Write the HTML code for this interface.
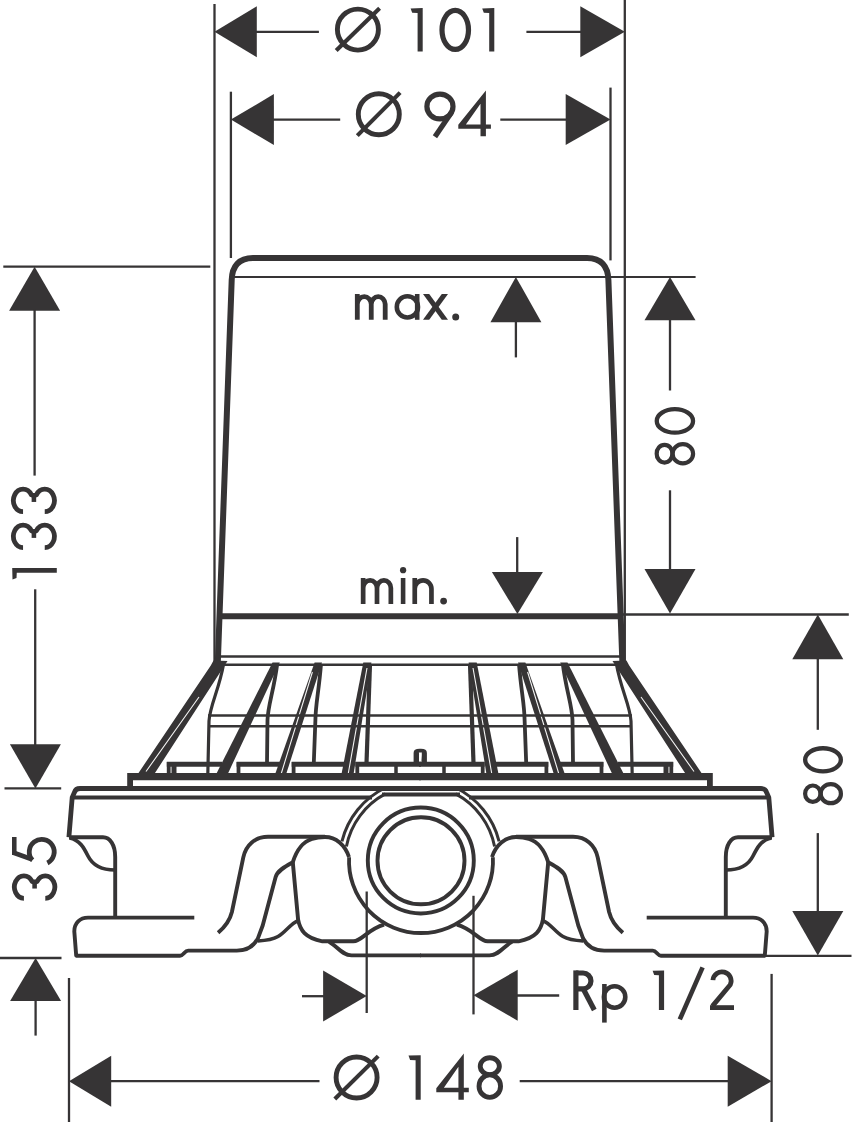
<!DOCTYPE html>
<html><head><meta charset="utf-8"><style>
html,body{margin:0;padding:0;background:#fff;}
body{width:863px;height:1122px;overflow:hidden;font-family:"Liberation Sans",sans-serif;}
svg{display:block;}
svg path, svg line, svg circle, svg polygon, svg ellipse{fill:none;stroke:#363435;stroke-linecap:butt;stroke-linejoin:round;}
svg .fl{fill:#363435;stroke:none;}
</style></head><body>
<svg width="863" height="1122" viewBox="0 0 863 1122">
<line x1="214.5" y1="4" x2="214.5" y2="663" stroke-width="2.3"/>
<line x1="624.8" y1="0" x2="624.8" y2="662" stroke-width="2.3"/>
<line x1="230.9" y1="91.7" x2="230.9" y2="258" stroke-width="2.3"/>
<line x1="610.5" y1="87.6" x2="610.5" y2="260.4" stroke-width="2.3"/>
<polygon points="214.5,31.8 256.8,6.3 256.8,57.3" stroke="none" class="fl"/>
<line x1="256" y1="31.8" x2="318.9" y2="31.8" stroke-width="2.3"/>
<polygon points="624.8,31.8 580.3,6.3 580.3,57.3" stroke="none" class="fl"/>
<line x1="526.4" y1="31.8" x2="581" y2="31.8" stroke-width="2.3"/>
<polygon points="230.9,119.6 273.9,94.1 273.9,145.1" stroke="none" class="fl"/>
<line x1="273" y1="119.6" x2="340.2" y2="119.6" stroke-width="2.3"/>
<polygon points="610.5,119.6 565.7,94.1 565.7,145.1" stroke="none" class="fl"/>
<line x1="500.3" y1="119.6" x2="566" y2="119.6" stroke-width="2.3"/>
<g><path d="M357.9,9.1 A20.5,20.5 0 1 1 357.9,50.1 A20.5,20.5 0 1 1 357.9,9.1Z" stroke-width="4.9"/><path d="M336.2,50.5 L379.6,8.2" stroke-width="4.1"/><polygon points="410.6,8.4 422.7,8.1 422.7,51.4 417.6,51.4 417.6,12.95 412.2,12.69" stroke="none" class="fl"/><path d="M455.25,10.4 A13.25,19.5 0 1 1 455.25,49.4 A13.25,19.5 0 1 1 455.25,10.4Z" stroke-width="5.2"/><polygon points="482.2,8.4 494.3,8.1 494.3,51.4 489.2,51.4 489.2,12.95 483.8,12.69" stroke="none" class="fl"/></g>
<g><path d="M378.8,93.7 A20.5,20.5 0 1 1 378.8,134.7 A20.5,20.5 0 1 1 378.8,93.7Z" stroke-width="4.9"/><path d="M357.3,135.6 L400.1,92.6" stroke-width="4.1"/><path d="M439.95,94.1 A13.05,12.4 0 1 1 439.95,118.9 A13.05,12.4 0 1 1 439.95,94.1Z" stroke-width="5.2"/><path d="M451.78,112.01 L434.94,136.7" stroke-width="5.2"/><path d="M485.9,90.4 L485.9,124.4 L490.9,124.4 L490.9,128.8 L485.9,128.8 L485.9,136.2 L480.5,136.2 L480.5,128.8 L458.3,128.8 L458.3,124.7 Z M480.5,103.7 L480.5,124.4 L465.9,124.4 Z" class="fl" fill-rule="evenodd" stroke="none"/></g>
<path d="M217.8,663 L231.7,280 C232.1,266 239,258 253,258 H587 C601,258 608,266 608.4,280 L622.4,663" stroke-width="6" />
<line x1="233.5" y1="277" x2="695.6" y2="277" stroke-width="2.2"/>
<line x1="219" y1="616.3" x2="620" y2="616.3" stroke-width="6"/>
<line x1="622" y1="614.5" x2="848.8" y2="614.5" stroke-width="2.3"/>
<line x1="218" y1="656.5" x2="621.5" y2="656.5" stroke-width="2.6"/>
<line x1="220" y1="664.8" x2="620" y2="664.8" stroke-width="2.6"/>
<polygon points="515.9,277 490.4,322.3 541.4,322.3" stroke="none" class="fl"/>
<line x1="515.9" y1="321" x2="515.9" y2="357.4" stroke-width="2.3"/>
<g><path d="M357.3,319.8 V294 M357.3,308.19 V304.07 A6.98,7.67 0 0 1 371.25,304.07 V319.8 M371.25,304.07 A6.98,7.67 0 0 1 385.2,304.07 V319.8" stroke-width="4.8"/><polygon points="414.9,294 419.5,294 419.5,319.8 414.9,319.8" stroke="none" class="fl"/><path d="M407.4,296.3 A10.6,10.6 0 1 1 407.4,317.5 A10.6,10.6 0 1 1 407.4,296.3Z" stroke-width="4.6"/><polygon points="423,294 429.21,294 448,319.8 441.79,319.8" stroke="none" class="fl"/><polygon points="441.79,294 448,294 429.21,319.8 423,319.8" stroke="none" class="fl"/><circle cx="455.7" cy="317" r="3.5" stroke="none" class="fl"/></g>
<polygon points="517.4,614.1 491.9,572 542.9,572" stroke="none" class="fl"/>
<line x1="517.2" y1="537.1" x2="517.2" y2="573" stroke-width="2.3"/>
<g><path d="M363.15,604 V578 M363.15,592.3 V587.97 A6.92,7.62 0 0 1 377,587.97 V604 M377,587.97 A6.92,7.62 0 0 1 390.85,587.97 V604" stroke-width="4.7"/><polygon points="400.8,578 405.4,578 405.4,604 400.8,604" stroke="none" class="fl"/><circle cx="403.1" cy="570.2" r="3.13" stroke="none" class="fl"/><path d="M414.75,604 V578 M414.75,592.3 V588.7 A8.35,8.35 0 0 1 431.45,588.7 V604" stroke-width="4.7"/><circle cx="443.6" cy="601.1" r="3.4" stroke="none" class="fl"/></g>
<polygon points="670,277 644.5,320.3 695.5,320.3" stroke="none" class="fl"/>
<line x1="670" y1="319.5" x2="670" y2="390.5" stroke-width="2.3"/>
<line x1="670" y1="490.3" x2="670" y2="570" stroke-width="2.3"/>
<polygon points="670,613.5 644.5,569 695.5,569" stroke="none" class="fl"/>
<g transform="translate(654.6,465.4) rotate(-90)"><path d="M11.7,2.1 A8.55,7.85 0 1 1 11.7,17.79 A8.55,7.85 0 1 1 11.7,2.1Z" stroke-width="4.2"/><path d="M11.7,18 A9.6,10.25 0 1 1 11.7,38.5 A9.6,10.25 0 1 1 11.7,18Z" stroke-width="4.2"/><path d="M44.5,2.15 A11.75,18.15 0 1 1 44.5,38.45 A11.75,18.15 0 1 1 44.5,2.15Z" stroke-width="4.3"/></g>
<polygon points="817.8,614.5 792.3,659.3 843.3,659.3" stroke="none" class="fl"/>
<line x1="817.8" y1="658.5" x2="817.8" y2="729.8" stroke-width="2.3"/>
<line x1="817.8" y1="833.1" x2="817.8" y2="912" stroke-width="2.3"/>
<polygon points="817.8,955.5 792.3,911.1 843.3,911.1" stroke="none" class="fl"/>
<g transform="translate(803,805) rotate(-90)"><path d="M11.3,2.1 A8.18,7.7 0 1 1 11.3,17.5 A8.18,7.7 0 1 1 11.3,2.1Z" stroke-width="4.2"/><path d="M11.3,17.71 A9.2,10.1 0 1 1 11.3,37.9 A9.2,10.1 0 1 1 11.3,17.71Z" stroke-width="4.2"/><path d="M45.2,2.15 A11.55,17.85 0 1 1 45.2,37.85 A11.55,17.85 0 1 1 45.2,2.15Z" stroke-width="4.3"/></g>
<line x1="764" y1="955.8" x2="851.5" y2="955.8" stroke-width="2.3"/>
<line x1="3.3" y1="266.7" x2="210.3" y2="266.7" stroke-width="2.3"/>
<polygon points="34.6,266.7 9.1,310.7 60.1,310.7" stroke="none" class="fl"/>
<line x1="34.6" y1="309.5" x2="34.6" y2="475.6" stroke-width="2.3"/>
<line x1="35.2" y1="589.3" x2="35.2" y2="745" stroke-width="2.3"/>
<polygon points="35.4,788.4 9.9,744.3 60.9,744.3" stroke="none" class="fl"/>
<line x1="4.5" y1="788.4" x2="61.2" y2="788.4" stroke-width="2.3"/>
<g transform="translate(11,579.6) rotate(-90)"><polygon points="0,1.5 11.6,1.2 11.6,45.8 6.8,45.8 6.8,5.76 1.6,5.52" stroke="none" class="fl"/><path d="M32,12.05 A11.2,9.65 0 1 1 48.8,20.41 L47.9,22.9 L48.8,25.39 A11.2,9.65 0 1 1 32,33.75" stroke-width="4.8"/><path d="M47.9,22.9 H41.7" stroke-width="4.56"/><path d="M67.9,12.05 A11.25,9.65 0 1 1 84.78,20.41 L83.88,22.9 L84.78,25.39 A11.25,9.65 0 1 1 67.9,33.75" stroke-width="4.8"/><path d="M83.88,22.9 H77.65" stroke-width="4.56"/></g>
<g transform="translate(12,901) rotate(-90)"><path d="M2.7,11.9 A11.25,9.5 0 1 1 19.58,20.13 L18.68,22.6 L19.58,25.07 A11.25,9.5 0 1 1 2.7,33.3" stroke-width="4.8"/><path d="M18.68,22.6 H12.45" stroke-width="4.56"/><polygon points="46,0 64,0 64,4.56 46,4.56" stroke="none" class="fl"/><path d="M48.4,1 L41.57,20.52" stroke-width="4.8"/><path d="M40.77,20.45 A12.48,12.48 0 1 1 38,35.39" stroke-width="4.8"/></g>
<line x1="0" y1="958" x2="61.5" y2="958" stroke-width="2.3"/>
<polygon points="35.6,958 10.1,1000.9 61.1,1000.9" stroke="none" class="fl"/>
<line x1="35.6" y1="1000" x2="35.6" y2="1035.6" stroke-width="2.3"/>
<line x1="69" y1="978" x2="69" y2="1122" stroke-width="2.3"/>
<line x1="771.6" y1="973.9" x2="771.6" y2="1122" stroke-width="2.3"/>
<polygon points="69,1081.2 111.2,1055.7 111.2,1106.7" stroke="none" class="fl"/>
<line x1="110" y1="1081.2" x2="319.5" y2="1081.2" stroke-width="2.3"/>
<line x1="519.7" y1="1081.2" x2="729" y2="1081.2" stroke-width="2.3"/>
<polygon points="771.6,1081.2 727.7,1055.7 727.7,1106.7" stroke="none" class="fl"/>
<g><path d="M356.6,1057 A20.5,20.5 0 1 1 356.6,1098 A20.5,20.5 0 1 1 356.6,1057Z" stroke-width="4.9"/><path d="M334.8,1099 L378.2,1056.1" stroke-width="4.1"/><polygon points="408.5,1055.6 420.7,1055.3 420.7,1099.8 415.6,1099.8 415.6,1060.14 410.1,1059.89" stroke="none" class="fl"/><path d="M463.82,1053.4 L463.82,1087.85 L468.8,1087.85 L468.8,1092.3 L463.82,1092.3 L463.82,1099.8 L458.43,1099.8 L458.43,1092.3 L436.3,1092.3 L436.3,1088.15 Z M458.43,1066.87 L458.43,1087.85 L443.88,1087.85 Z" class="fl" fill-rule="evenodd" stroke="none"/><path d="M489.8,1057.75 A9.56,8.45 0 1 1 489.8,1074.65 A9.56,8.45 0 1 1 489.8,1057.75Z" stroke-width="4.9"/><path d="M489.8,1074.9 A10.75,11.22 0 1 1 489.8,1097.35 A10.75,11.22 0 1 1 489.8,1074.9Z" stroke-width="4.9"/></g>
<line x1="366.7" y1="891.5" x2="366.7" y2="1013" stroke-width="2.3"/>
<line x1="473.5" y1="895.8" x2="473.5" y2="1014.4" stroke-width="2.3"/>
<polygon points="366.7,996 323.1,970.5 323.1,1021.5" stroke="none" class="fl"/>
<line x1="302" y1="996.2" x2="324" y2="996.2" stroke-width="2.3"/>
<polygon points="473.5,995.2 517.7,969.7 517.7,1020.7" stroke="none" class="fl"/>
<line x1="517" y1="995.5" x2="559.2" y2="995.5" stroke-width="2.3"/>
<g><polygon points="573.3,970.4 578.5,970.4 578.5,1010 573.3,1010" stroke="none" class="fl"/><path d="M575.9,973 H583.05 A7.89,7.89 0 0 1 583.05,988.79 H575.9" stroke-width="5.2"/><path d="M583.2,988.79 L594.3,1010" stroke-width="5.2"/><polygon points="602.1,984 606.7,984 606.7,1022.6 602.1,1022.6" stroke="none" class="fl"/><path d="M614.6,986.3 A10.7,10.7 0 1 1 614.6,1007.7 A10.7,10.7 0 1 1 614.6,986.3Z" stroke-width="4.6"/><polygon points="652.6,970.7 664.1,970.4 664.1,1010 658.9,1010 658.9,975.34 654.2,975.08" stroke="none" class="fl"/><path d="M679.8,1019.4 L702.6,967.3" stroke-width="4.6"/><path d="M712.91,980.13 A9.12,9.12 0 1 1 730.27,984.77 L712.4,1006.16" stroke-width="4.8"/><polygon points="710,1005.2 734,1005.2 734,1010 710,1010" stroke="none" class="fl"/></g>
<g><polygon points="213.5,660.5 227.5,661 154,774.5 137.5,774.5 210.8,665.5" stroke="none" class="fl"/><polygon points="272.5,662.5 279.8,662.5 227.5,774.5 216,774.5" stroke="none" class="fl"/><polygon points="314.6,662.5 322,662.5 286,774.5 275,774.5" stroke="none" class="fl"/><polygon points="363.3,662.5 371.4,662.5 353.5,774.5 341.4,774.5" stroke="none" class="fl"/><path d="M223.6,664 C219,690 210,705 209,721 L207.8,775" stroke-width="3.2"/><path d="M277.2,664 C274,690 268,705 267.5,720 L267,763" stroke-width="3.8"/><path d="M321,664 C319,690 315.5,705 315.4,720 L313.8,763" stroke-width="3.8"/><path d="M370,664 L366.5,763" stroke-width="4.2"/><path d="M166.8,764.2 H222" stroke-width="5"/><path d="M168.70000000000002,762 V774" stroke-width="3.8"/><path d="M236.6,764.2 H281" stroke-width="5"/><path d="M238.5,762 V774" stroke-width="3.8"/><path d="M291.7,764.2 H345" stroke-width="5"/><path d="M293.59999999999997,762 V774" stroke-width="3.8"/><path d="M355.4,764.2 H421" stroke-width="5"/><path d="M357.29999999999995,762 V774" stroke-width="3.8"/><path d="M174,766 V774" stroke-width="5"/><path d="M396,766 V774" stroke-width="3.5"/><path d="M312.4,672 L280.8,775 M367,668 L348,775 M199,697 L146,771.5" style="stroke:#f4f4f4;fill:none" stroke-width="1.1"/><polygon points="127.2,773 421,773 421,780.2 133,780.2 133,787.5 127.2,787.5" stroke="none" class="fl"/></g>
<g transform="translate(840,0) scale(-1,1)"><polygon points="213.5,660.5 227.5,661 154,774.5 137.5,774.5 210.8,665.5" stroke="none" class="fl"/><polygon points="272.5,662.5 279.8,662.5 227.5,774.5 216,774.5" stroke="none" class="fl"/><polygon points="314.6,662.5 322,662.5 286,774.5 275,774.5" stroke="none" class="fl"/><polygon points="363.3,662.5 371.4,662.5 353.5,774.5 341.4,774.5" stroke="none" class="fl"/><path d="M223.6,664 C219,690 210,705 209,721 L207.8,775" stroke-width="3.2"/><path d="M277.2,664 C274,690 268,705 267.5,720 L267,763" stroke-width="3.8"/><path d="M321,664 C319,690 315.5,705 315.4,720 L313.8,763" stroke-width="3.8"/><path d="M370,664 L366.5,763" stroke-width="4.2"/><path d="M166.8,764.2 H222" stroke-width="5"/><path d="M168.70000000000002,762 V774" stroke-width="3.8"/><path d="M236.6,764.2 H281" stroke-width="5"/><path d="M238.5,762 V774" stroke-width="3.8"/><path d="M291.7,764.2 H345" stroke-width="5"/><path d="M293.59999999999997,762 V774" stroke-width="3.8"/><path d="M355.4,764.2 H421" stroke-width="5"/><path d="M357.29999999999995,762 V774" stroke-width="3.8"/><path d="M174,766 V774" stroke-width="5"/><path d="M396,766 V774" stroke-width="3.5"/><path d="M312.4,672 L280.8,775 M367,668 L348,775 M199,697 L146,771.5" style="stroke:#f4f4f4;fill:none" stroke-width="1.1"/><polygon points="127.2,773 421,773 421,780.2 133,780.2 133,787.5 127.2,787.5" stroke="none" class="fl"/></g>
<path d="M416.3,763 V753 Q416.3,751.5 419.5,751.5 H421 Q424.2,751.5 424.2,753 V763" stroke-width="5.4"/>
<path d="M418.9,752.5 L421.9,752.5 L420.9,761 L419.9,761Z" style="fill:#fff;stroke:none"/>
<line x1="208" y1="715.5" x2="632" y2="715.5" stroke-width="2.5"/>
<line x1="208" y1="726.3" x2="632" y2="726.3" stroke-width="2.5"/>
<g><path d="M421,788.5 H80 Q75.6,788.5 74.6,792 L72.2,797.5 L68.9,837.3" stroke-width="4.8"/><path d="M72.5,797.5 H372" stroke-width="3.8"/><path d="M69,837.3 H103 C110,837.3 115.2,845 115.2,857 V917.6" stroke-width="3.9"/><path d="M69.5,838 C80,840 84,848 88,856 C93,866 103,870 115,870" stroke-width="3.7"/><path d="M194.3,917.6 H88 C80,917.6 74.3,923 74.3,931.4 L76.2,955.7 H180 C183.5,955.7 184.5,950.6 188.2,950.6 H236.8 C248,950.6 254,946 257.9,938.4 L262.7,925.5 L275.7,876.8 C277.5,871 284,867 292.8,862.2 C296,852 302,842 312,839 C316,837.5 320,837 325,837 C336,837 345,845 349,857" stroke-width="3.9"/><path d="M218.1,932.8 C226,926 230,920 231.9,912 L243.3,857.3 C246,845 255,836.8 268,836.8 H325" stroke-width="3.9"/><path d="M292.8,862.2 L298.1,919.7 C300,930 305,938 322.4,941.3 H353.3 C362,941 368,929 384.1,924.6" stroke-width="3.9"/><path d="M257.9,940.9 C266,940.5 272,940 278,936.5 C286,932 290,924 298.1,920.6" stroke-width="3.5"/><path d="M329,941.8 C337,946 342,955.4 351.6,955.4 H421" stroke-width="3.9"/><path d="M341.92,841.28 A81.5,81.5 0 0 1 385.27,787.75" stroke-width="3"/><path d="M346.4,846.5 A76,76 0 0 1 385.32,793.9" stroke-width="3"/></g>
<g transform="translate(841,0) scale(-1,1)"><path d="M421,788.5 H80 Q75.6,788.5 74.6,792 L72.2,797.5 L68.9,837.3" stroke-width="4.8"/><path d="M72.5,797.5 H372" stroke-width="3.8"/><path d="M69,837.3 H103 C110,837.3 115.2,845 115.2,857 V917.6" stroke-width="3.9"/><path d="M69.5,838 C80,840 84,848 88,856 C93,866 103,870 115,870" stroke-width="3.7"/><path d="M194.3,917.6 H88 C80,917.6 74.3,923 74.3,931.4 L76.2,955.7 H180 C183.5,955.7 184.5,950.6 188.2,950.6 H236.8 C248,950.6 254,946 257.9,938.4 L262.7,925.5 L275.7,876.8 C277.5,871 284,867 292.8,862.2 C296,852 302,842 312,839 C316,837.5 320,837 325,837 C336,837 345,845 349,857" stroke-width="3.9"/><path d="M218.1,932.8 C226,926 230,920 231.9,912 L243.3,857.3 C246,845 255,836.8 268,836.8 H325" stroke-width="3.9"/><path d="M292.8,862.2 L298.1,919.7 C300,930 305,938 322.4,941.3 H353.3 C362,941 368,929 384.1,924.6" stroke-width="3.9"/><path d="M257.9,940.9 C266,940.5 272,940 278,936.5 C286,932 290,924 298.1,920.6" stroke-width="3.5"/><path d="M329,941.8 C337,946 342,955.4 351.6,955.4 H421" stroke-width="3.9"/><path d="M341.92,841.28 A81.5,81.5 0 0 1 385.27,787.75" stroke-width="3"/><path d="M346.4,846.5 A76,76 0 0 1 385.32,793.9" stroke-width="3"/></g>
<circle cx="421" cy="860.8" r="43.5" stroke-width="3.9"/>
<circle cx="420.8" cy="860.5" r="53" stroke-width="3.9"/>
<path d="M349.1,857.23 A72,72 0 1 0 492.9,857.23" stroke-width="3.8"/>
<line x1="382" y1="794.5" x2="460" y2="794.5" stroke-width="4.2"/>
</svg></body></html>
